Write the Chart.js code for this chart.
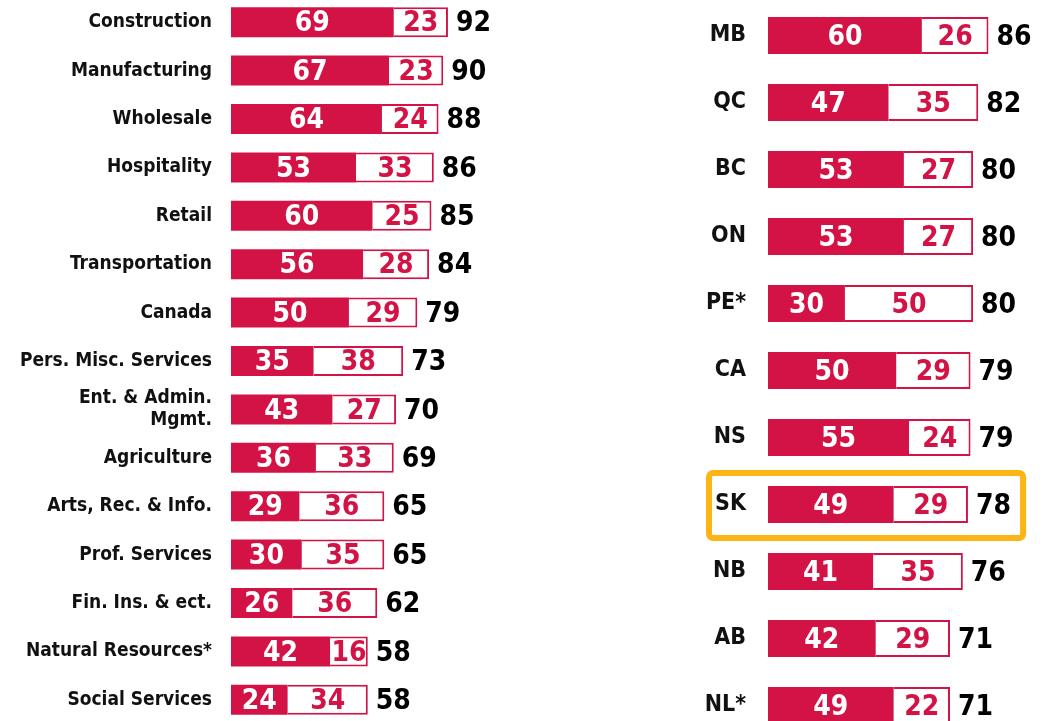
<!DOCTYPE html>
<html>
<head>
<meta charset="utf-8">
<script src="https://cdn.jsdelivr.net/npm/chart.js@4"></script>
<style>
    html, body { margin: 0; padding: 0; background: #fff; overflow: hidden; }
    body { width: 1056px; height: 721px; position: relative; }
    #leftBox { position: absolute; left: 0; top: -2px; }
    #rightBox { position: absolute; left: 690px; top: 2px; }
</style>
</head>
<body>
<div id="leftBox"><canvas id="sectorChart" width="514" height="726"></canvas></div>
<div id="rightBox"><canvas id="provChart" width="360" height="737"></canvas></div>
<script>
// dati (settori a sinistra, province a destra)
const sectors = ['Construction', 'Manufacturing', 'Wholesale', 'Hospitality', 'Retail', 'Transportation',
    'Canada', 'Pers. Misc. Services', ['Ent. & Admin.', 'Mgmt.'], 'Agriculture', 'Arts, Rec. & Info.',
    'Prof. Services', 'Fin. Ins. & ect.', 'Natural Resources*', 'Social Services'];
const sectorsRed = [69, 67, 64, 53, 60, 56, 50, 35, 43, 36, 29, 30, 26, 42, 24];
const sectorsWhite = [23, 23, 24, 33, 25, 28, 29, 38, 27, 33, 36, 35, 36, 16, 34];

const provinces = ['MB', 'QC', 'BC', 'ON', 'PE*', 'CA', 'NS', 'SK', 'NB', 'AB', 'NL*'];
const provRed = [60, 47, 53, 53, 30, 50, 55, 49, 41, 42, 49];
const provWhite = [26, 35, 27, 27, 50, 29, 24, 29, 35, 29, 22];

const highlighted = 'SK';

const RED = '#d31245';
const ORANGE = '#fdb515';
const FONT = "'DejaVu Sans Condensed', 'DejaVu Sans', sans-serif";

// scrive i numeri dentro le barre e il totale a destra
function barLabels(totalGap) {
    return {
        id: 'barLabels',
        afterDatasetsDraw(chart) {
            const ctx = chart.ctx;
            const red = chart.getDatasetMeta(0).data;
            const white = chart.getDatasetMeta(1).data;
            const d0 = chart.data.datasets[0].data;
            const d1 = chart.data.datasets[1].data;
            ctx.save();
            ctx.font = 'bold 28px ' + FONT;
            ctx.textBaseline = 'middle';
            for (let i = 0; i < red.length; i++) {
                const y = red[i].y + 2;
                ctx.textAlign = 'center';
                ctx.fillStyle = '#fff';
                ctx.fillText(d0[i], (red[i].x + red[i].base) / 2, y);
                ctx.fillStyle = RED;
                ctx.fillText(d1[i], (white[i].x + white[i].base) / 2, y);
                ctx.textAlign = 'left';
                ctx.fillStyle = '#000';
                ctx.fillText(d0[i] + d1[i], white[i].x + totalGap, y);
            }
            ctx.restore();
        }
    };
}

// riquadro arancione attorno alla provincia evidenziata
const highlightBox = {
    id: 'highlightBox',
    afterDraw(chart) {
        const idx = chart.data.labels.indexOf(highlighted);
        if (idx < 0) return;
        const yScale = chart.scales.y;
        const xScale = chart.scales.x;
        const yc = yScale.getPixelForValue(idx);
        const half = (yScale.getPixelForValue(1) - yScale.getPixelForValue(0)) / 2;
        const left = chart.chartArea.left - 59;
        const right = xScale.getPixelForValue(99.5);
        const ctx = chart.ctx;
        ctx.save();
        ctx.strokeStyle = ORANGE;
        ctx.lineWidth = 6;
        ctx.beginPath();
        ctx.roundRect(left, yc - half + 2, right - left, 2 * half - 2, 4);
        ctx.stroke();
        ctx.restore();
    }
};

function makeChart(canvasId, labels, redData, whiteData, axisWidth, xMax, barPct, labelFont, labelPad, totalGap) {
    const ctx = document.getElementById(canvasId).getContext('2d');
    return new Chart(ctx, {
        type: 'bar',
        data: {
            labels: labels,
            datasets: [
                {
                    data: redData,
                    backgroundColor: RED,
                    borderWidth: 0,
                    barPercentage: barPct,
                    categoryPercentage: 1,
                },
                {
                    data: whiteData,
                    backgroundColor: '#fff',
                    borderColor: RED,
                    borderWidth: { top: 2, right: 2, bottom: 2, left: 0 },
                    borderSkipped: false,
                    barPercentage: barPct,
                    categoryPercentage: 1,
                }
            ]
        },
        options: {
            indexAxis: 'y',
            responsive: false,
            animation: false,
            devicePixelRatio: 1,
            layout: { padding: 0 },
            scales: {
                x: {
                    stacked: true,
                    display: false,
                    min: 0,
                    max: xMax,
                },
                y: {
                    stacked: true,
                    grid: { display: false, drawTicks: false },
                    border: { display: false },
                    ticks: {
                        color: '#111',
                        padding: labelPad,
                        font: { family: FONT, size: labelFont, weight: 'bold', lineHeight: 1.15 },
                        autoSkip: false,
                    },
                    afterFit(scale) {
                        // larghezza fissa e niente padding sopra/sotto (la padding dei tick lo aggiunge)
                        scale.width = axisWidth;
                        scale.paddingTop = 0;
                        scale.paddingBottom = 0;
                    }
                }
            },
            plugins: {
                legend: { display: false },
                tooltip: { enabled: false },
            }
        },
        plugins: [barLabels(totalGap), highlightBox]
    });
}

makeChart('sectorChart', sectors, sectorsRed, sectorsWhite, 231, 120, 0.62, 19, 19, 8);
makeChart('provChart', provinces, provRed, provWhite, 78, 110, 0.55, 23, 22, 8);
</script>
</body>
</html>
